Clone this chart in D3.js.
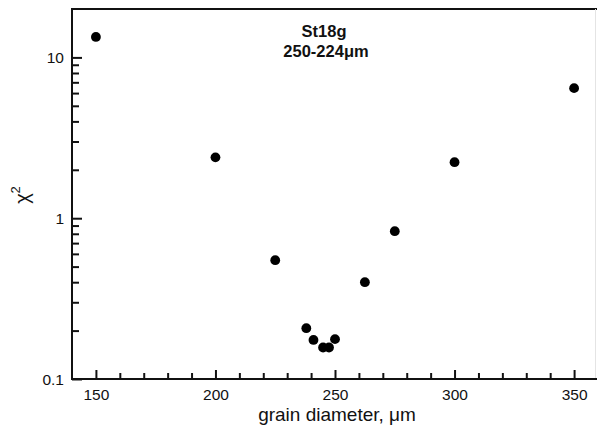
<!DOCTYPE html>
<html><head><meta charset="utf-8">
<script src="https://cdn.jsdelivr.net/npm/d3@7"></script>
<style>
html,body{margin:0;padding:0;background:#fff;}
svg{display:block;font-family:"Liberation Sans",Arial,Helvetica,sans-serif;}
</style></head>
<body>
<svg id="chart" width="597" height="437"></svg>
<script>
// Data
const grainDiameter = [150, 200, 225, 238, 241, 245, 247.5, 250, 262.5, 275, 300, 350];
const chiSquared    = [13.4, 2.39, 0.548, 0.207, 0.175, 0.157, 0.157, 0.177, 0.40, 0.83, 2.23, 6.44];
const xMajorTicks = [150, 200, 250, 300, 350];
const xMinorTicks = [160,170,180,190,210,220,230,240,260,270,280,290,310,320,330,340];
const yMajorTicks = [0.1, 1, 10];
const yMinorTicks = [0.2,0.3,0.4,0.5,0.6,0.7,0.8,0.9,2,3,4,5,6,7,8,9];
const titleLines = ["St18g", "250-224\u03bcm"];
const xLabel = "grain diameter, \u03bcm";

const svg = d3.select("#chart");
const x = d3.scaleLinear().domain([140, 360]).range([72, 598]);
const y = d3.scaleLog().domain([0.1, 20]).range([379, 9]);
const ink = "#111";

// frame: top line and faint right edge
svg.append("line").attr("x1", x(140)).attr("x2", x(360)).attr("y1", y(20)).attr("y2", y(20))
  .attr("stroke", ink).attr("stroke-width", 2);
svg.append("line").attr("x1", 595.5).attr("x2", 595.5).attr("y1", y(20)).attr("y2", y(0.1))
  .attr("stroke", "#e4e4e4").attr("stroke-width", 1);

// x axis
const gx = svg.append("g").attr("transform", `translate(0,${y(0.1)})`);
gx.call(d3.axisBottom(x).tickValues(xMajorTicks).tickSize(-9).tickPadding(0).tickFormat(d3.format("d")));
gx.select(".domain").remove();
gx.selectAll(".tick line").attr("stroke", ink).attr("stroke-width", 2);
gx.selectAll(".tick text").attr("y", 21).attr("dy", 0).attr("font-size", 15.5).attr("fill", ink)
  .attr("font-family", "Liberation Sans, Arial, sans-serif");
const gxm = svg.append("g").attr("transform", `translate(0,${y(0.1)})`);
gxm.call(d3.axisBottom(x).tickValues(xMinorTicks).tickSize(-6).tickFormat(""));
gxm.select(".domain").remove();
gxm.selectAll(".tick line").attr("stroke", ink).attr("stroke-width", 2);
svg.append("line").attr("x1", x(140) - 1).attr("x2", x(360)).attr("y1", y(0.1)).attr("y2", y(0.1))
  .attr("stroke", ink).attr("stroke-width", 2);

// y axis
const gy = svg.append("g").attr("transform", `translate(${x(140)},0)`);
gy.call(d3.axisLeft(y).tickValues(yMajorTicks).tickSize(-10).tickFormat(d => d < 1 ? "0.1" : d3.format("d")(d)));
gy.select(".domain").remove();
gy.selectAll(".tick line").attr("stroke", ink).attr("stroke-width", 2);
gy.selectAll(".tick text").attr("x", -8).attr("dy", "0.36em").attr("font-size", 15.5).attr("fill", ink)
  .attr("font-family", "Liberation Sans, Arial, sans-serif");
const gym = svg.append("g").attr("transform", `translate(${x(140)},0)`);
gym.call(d3.axisLeft(y).tickValues(yMinorTicks).tickSize(-7).tickFormat(""));
gym.select(".domain").remove();
gym.selectAll(".tick line").attr("stroke", ink).attr("stroke-width", 2);
svg.append("line").attr("x1", x(140)).attr("x2", x(140)).attr("y1", y(20) - 1).attr("y2", y(0.1) + 1)
  .attr("stroke", ink).attr("stroke-width", 2);

// points
svg.append("g").selectAll("circle").data(grainDiameter.map((g, i) => [g, chiSquared[i]]))
  .join("circle")
  .attr("cx", d => x(d[0])).attr("cy", d => y(d[1])).attr("r", 4.9).attr("fill", "#000");

// title
svg.append("text").attr("x", 324).attr("y", 37).attr("text-anchor", "middle")
  .attr("font-size", 16.5).attr("font-weight", "bold").attr("fill", ink).text(titleLines[0]);
svg.append("text").attr("x", 326).attr("y", 57).attr("text-anchor", "middle")
  .attr("font-size", 16.5).attr("font-weight", "bold").attr("fill", ink).text(titleLines[1]);

// axis labels
svg.append("text").attr("x", 337).attr("y", 421).attr("text-anchor", "middle")
  .attr("font-size", 19).attr("fill", ink).text(xLabel);
const yl = svg.append("text").attr("transform", "translate(29,195) rotate(-90)")
  .attr("text-anchor", "middle").attr("font-size", 20).attr("fill", ink);
yl.append("tspan").text("\u03c7");
yl.append("tspan").attr("dy", -9).attr("font-size", 13).text("2");
</script>
</body></html>
